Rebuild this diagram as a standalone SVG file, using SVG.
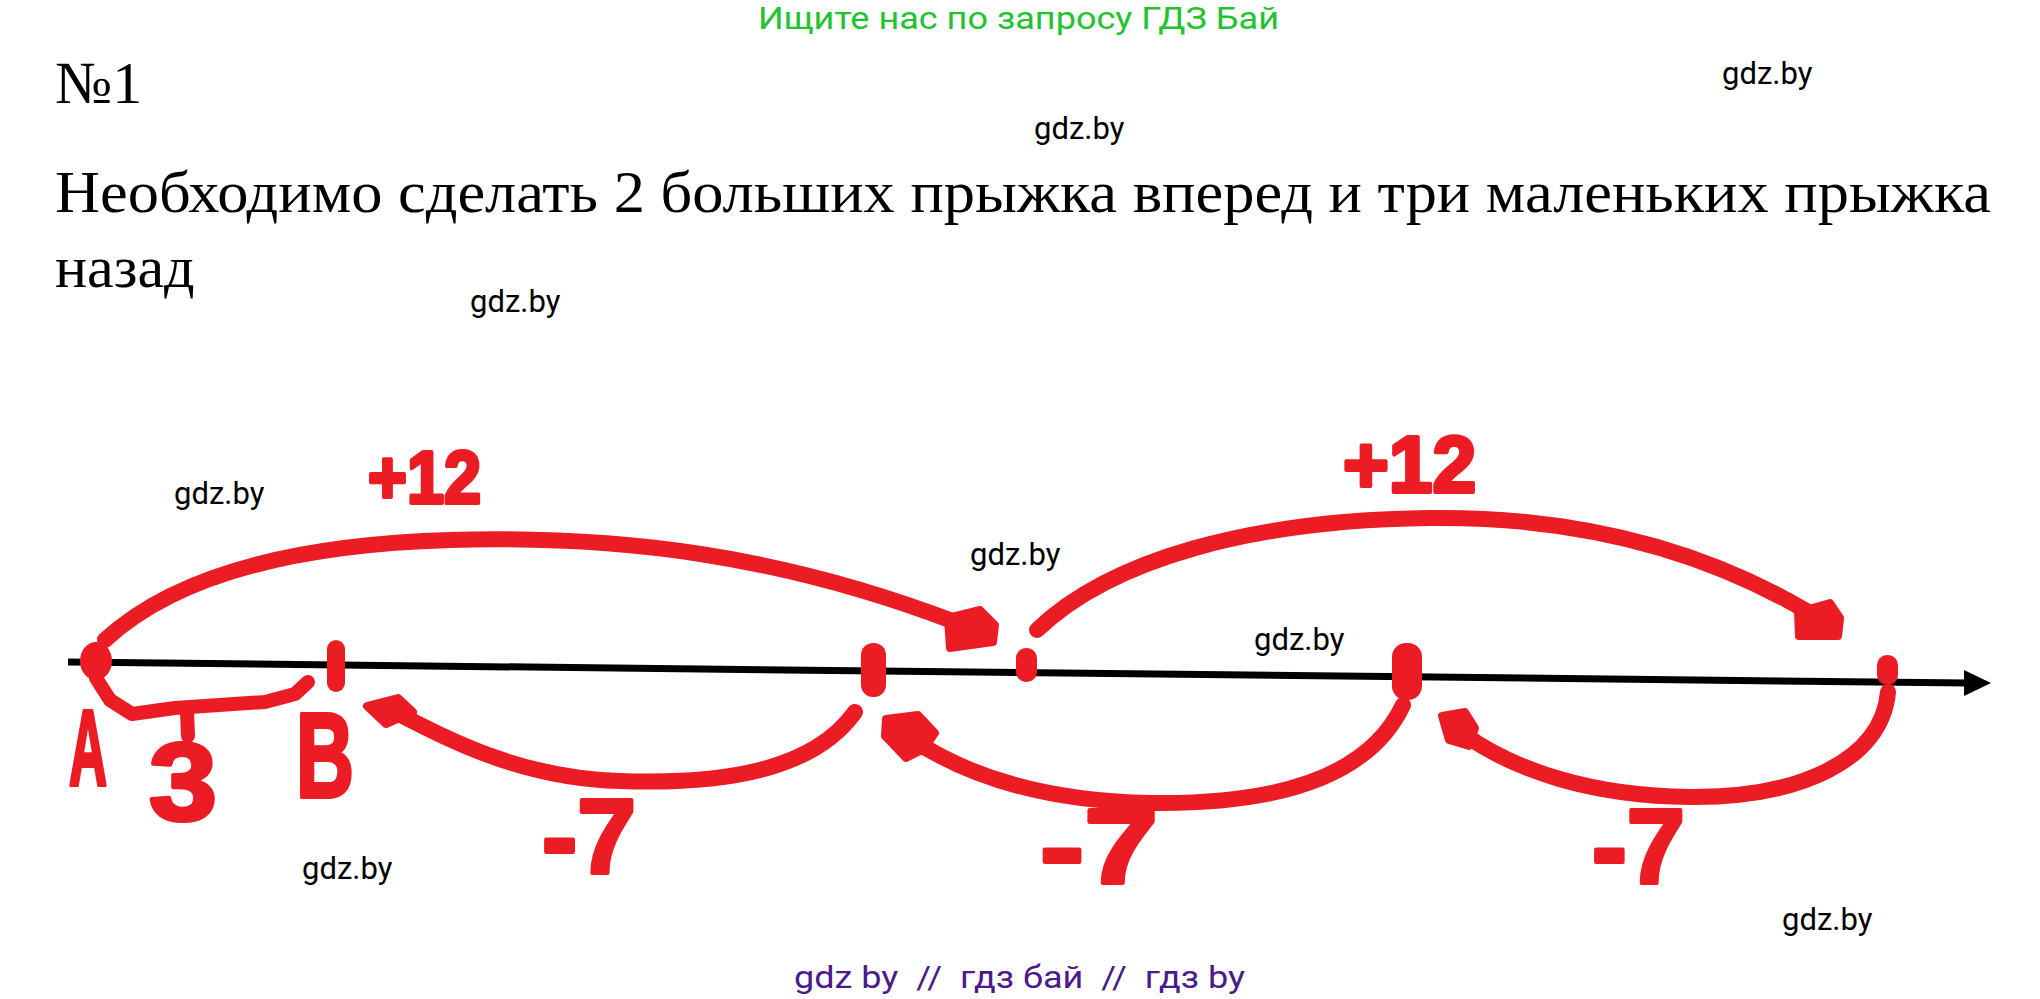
<svg xmlns="http://www.w3.org/2000/svg" width="2040" height="999" viewBox="0 0 2040 999">
<style>
.hdr{font-family:"Liberation Serif","Times New Roman",serif;font-size:60px;fill:#000}
.wm{font-family:Roboto,"Liberation Sans",sans-serif;font-size:31px;fill:#000}
.arc{fill:none;stroke:#ec1c24;stroke-width:16;stroke-linecap:round;stroke-linejoin:round}
.blob{fill:#ec1c24;stroke:#ec1c24;stroke-width:8;stroke-linejoin:round}
.lbl{font-family:"Liberation Sans",Arial,sans-serif;font-weight:bold;fill:#ec1c24;stroke:#ec1c24;stroke-width:4;stroke-linejoin:round}
</style>
<rect width="2040" height="999" fill="#fff"/>
<g id="header">
<text x="758" y="29" font-family="Roboto,'Liberation Sans',sans-serif" font-size="31" fill="#22c32e" textLength="521" lengthAdjust="spacingAndGlyphs">Ищите нас по запросу ГДЗ Бай</text>
<text class="hdr" x="55" y="103">№1</text>
<text class="hdr" x="55" y="212" textLength="1936" lengthAdjust="spacingAndGlyphs">Необходимо сделать 2 больших прыжка вперед и три маленьких прыжка</text>
<text class="hdr" x="55" y="287">назад</text>
</g>
<g id="watermarks">
<text class="wm" x="1722" y="84">gdz.by</text>
<text class="wm" x="1034" y="139">gdz.by</text>
<text class="wm" x="470" y="312">gdz.by</text>
<text class="wm" x="174" y="504">gdz.by</text>
<text class="wm" x="970" y="565">gdz.by</text>
<text class="wm" x="1254" y="650">gdz.by</text>
<text class="wm" x="302" y="879">gdz.by</text>
<text class="wm" x="1782" y="930">gdz.by</text>
<text x="794" y="988" xml:space="preserve" font-family="Roboto,'Liberation Sans',sans-serif" font-size="31" fill="#4a1a8c" textLength="451" lengthAdjust="spacingAndGlyphs">gdz by  //  гдз бай  //  гдз by</text>
</g>
<g id="axis">
<line x1="68" y1="662" x2="1968" y2="683" stroke="#000" stroke-width="7"/>
<polygon points="1964,670 1991,683 1964,696" fill="#000"/>
</g>
<g id="ticks" fill="#ec1c24">
<ellipse id="pointA" cx="96" cy="661" rx="16" ry="19"/>
<rect id="pointB" x="327" y="640" width="18" height="52" rx="9"/>
<rect id="tick3" x="861" y="643" width="25" height="54" rx="12"/>
<rect id="tick4" x="1016" y="648" width="21" height="34" rx="10"/>
<rect id="tick5" x="1392" y="643" width="30" height="57" rx="14"/>
<rect id="tick6" x="1877" y="655" width="21" height="30" rx="10"/>
</g>
<g id="connectors">
<path class="arc" d="M105,640 C170,580 280,545 450,540 C620,535 780,555 955,622"/>
<polygon class="blob" points="948,618 980,610 995,625 993,642 950,648"/>
<path class="arc" d="M1037,630 C1110,560 1250,520 1430,518 C1600,516 1720,560 1808,612"/>
<polygon class="blob" points="1798,612 1830,603 1840,618 1838,636 1799,636"/>
<path class="arc" d="M855,712 C815,768 730,785 620,781 C520,778 450,740 395,712"/>
<polygon class="blob" points="367,706 398,698 413,712 386,724"/>
<path class="arc" d="M1403,705 C1370,775 1280,805 1150,803 C1040,801 965,775 910,738"/>
<polygon class="blob" points="886,719 918,715 935,733 924,749 906,758 885,736"/>
<path class="arc" d="M1888,692 C1882,760 1800,798 1690,797 C1590,796 1515,770 1465,735"/>
<polygon class="blob" points="1442,716 1465,712 1475,728 1469,746 1449,740"/>
<path class="arc" style="stroke-width:14" d="M96,678 L110,700 L132,714 L175,708 L265,702 L295,694 L308,682"/>
<path class="arc" style="stroke-width:14" d="M187,712 L188,736"/>
</g>
<g id="labels">
<text class="lbl" x="368" y="503" font-size="75" textLength="113" lengthAdjust="spacingAndGlyphs">+12</text>
<text class="lbl" x="1343" y="492" font-size="80" textLength="133" lengthAdjust="spacingAndGlyphs">+12</text>
<text class="lbl" x="542" y="873" font-size="105" textLength="94" lengthAdjust="spacingAndGlyphs">-7</text>
<text class="lbl" x="1040" y="883" font-size="105" textLength="118" lengthAdjust="spacingAndGlyphs">-7</text>
<text class="lbl" x="1592" y="883" font-size="105" textLength="93" lengthAdjust="spacingAndGlyphs">-7</text>
<text class="lbl" x="69" y="785" font-size="108" textLength="38" lengthAdjust="spacingAndGlyphs">А</text>
<text class="lbl" x="149" y="820" font-size="110" textLength="68" lengthAdjust="spacingAndGlyphs">3</text>
<text class="lbl" x="296" y="797" font-size="120" textLength="58" lengthAdjust="spacingAndGlyphs">В</text>
</g>
</svg>
